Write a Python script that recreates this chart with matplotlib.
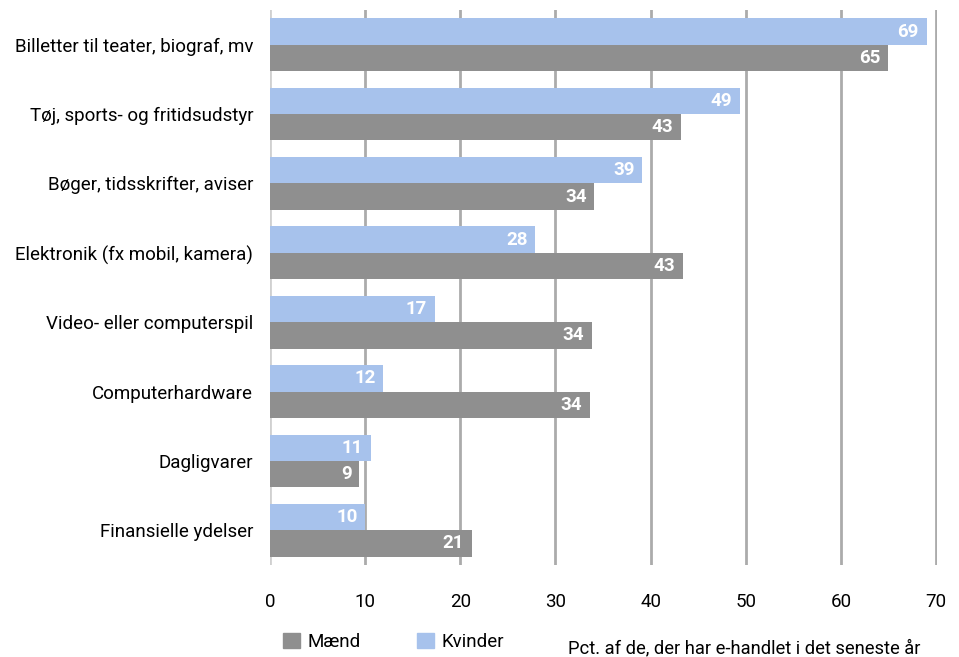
import numpy as np
import matplotlib.pyplot as plt
from matplotlib.patches import Patch

categories = [
    "Billetter til teater, biograf, mv",
    "Tøj, sports- og fritidsudstyr",
    "Bøger, tidsskrifter, aviser",
    "Elektronik (fx mobil, kamera)",
    "Video- eller computerspil",
    "Computerhardware",
    "Dagligvarer",
    "Finansielle ydelser",
]
kvinder = [69.0, 49.4, 39.1, 27.9, 17.3, 11.9, 10.6, 10.0]
maend = [65.0, 43.2, 34.1, 43.4, 33.8, 33.6, 9.4, 21.2]
xticks = [0, 10, 20, 30, 40, 50, 60, 70]

GREY = "#8f8f8f"
BLUE = "#a7c2ec"

plt.rcParams["font.family"] = ["Roboto", "DejaVu Sans"]

fig = plt.figure(figsize=(9.59, 6.57), dpi=100)
ax = fig.add_axes([270 / 959, 1 - 565 / 657, (937 - 270) / 959, 555 / 657])

y = np.arange(len(categories))
h = 0.38
ax.barh(y - h / 2, kvinder, height=h, color=BLUE, zorder=3)
ax.barh(y + h / 2, maend, height=h, color=GREY, zorder=3)

# value labels, white, inside the bar ends
for yi, v in zip(y, kvinder):
    ax.text(v - 0.8, yi - h / 2, f"{round(v)}", ha="right", va="center",
            color="white", fontsize=13.5, fontweight="bold", zorder=4)
for yi, v in zip(y, maend):
    ax.text(v - 0.8, yi + h / 2, f"{round(v)}", ha="right", va="center",
            color="white", fontsize=13.5, fontweight="bold", zorder=4)

ax.set_ylim(len(categories) - 0.5, -0.5)
ax.set_xlim(0, 70.1)
ax.set_yticks(y)
ax.set_yticklabels(categories, fontsize=13.5)
ax.set_xticks(xticks)
ax.set_xticklabels([str(t) for t in xticks], fontsize=13.5)
ax.tick_params(axis="both", length=0)
ax.tick_params(axis="x", pad=20)
ax.tick_params(axis="y", pad=12)

for s in ax.spines.values():
    s.set_visible(False)
for t in xticks:
    ax.axvline(t, color="#d0d0d0" if t == 0 else "#ababab", lw=2, zorder=1)

handles = [Patch(color=GREY, label="Mænd"), Patch(color=BLUE, label="Kvinder")]
fig.legend(handles=handles, loc="center left", bbox_to_anchor=(266 / 959, 1 - 642 / 657),
           ncol=2, frameon=False, fontsize=13.5, handlelength=0.9, handleheight=0.9,
           handletextpad=0.4, columnspacing=3.0)
fig.text(568 / 959, 1 - 648 / 657, "Pct. af de, der har e-handlet i det seneste år",
         fontsize=13.2, va="center", ha="left")

fig.savefig("out.png", dpi=100)
